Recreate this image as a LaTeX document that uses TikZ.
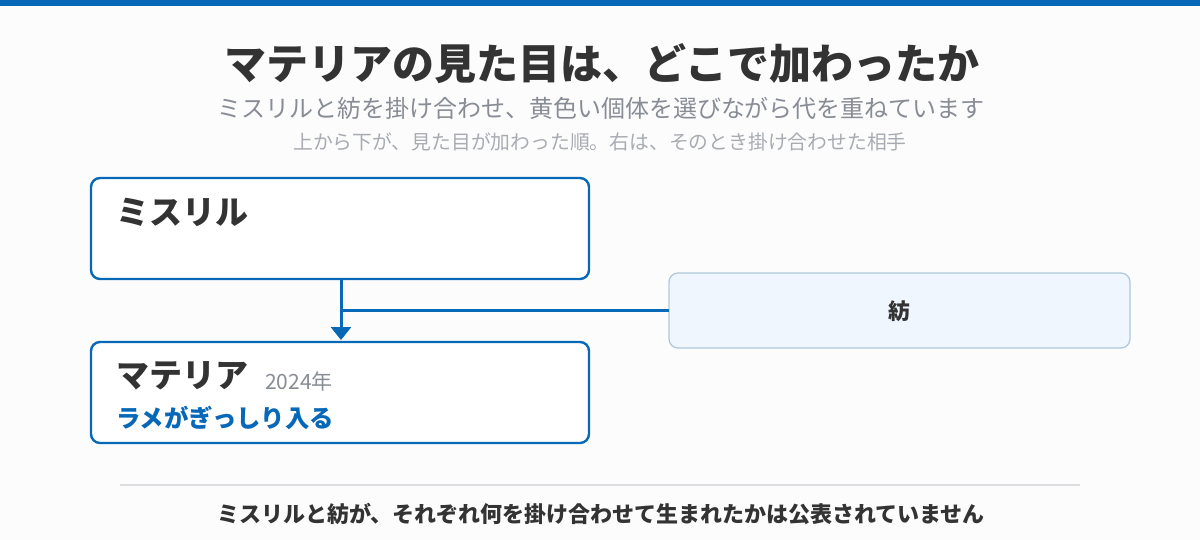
\documentclass[tikz,border=0pt]{standalone}
\usepackage{fontspec}
\setmainfont{Noto Sans CJK JP}
\usetikzlibrary{arrows.meta}
\definecolor{blu}{HTML}{0868B8}
\definecolor{dk}{HTML}{333333}
\definecolor{gr}{HTML}{888C94}
\definecolor{lg}{HTML}{A8ACB2}
\begin{document}
\begin{tikzpicture}[x=1pt,y=-1pt,
 box/.style={draw=blu,line width=2.4pt,fill=white,rounded corners=9pt},
 t/.style={inner sep=0,anchor=west}]
\fill[fill={rgb,255:red,252;green,252;blue,252}] (0,0) rectangle (1200,540);
\useasboundingbox (0,0) rectangle (1200,540);
\fill[blu] (0,0) rectangle (1200,6);
\node[inner sep=0,text=dk,font=\fontsize{42}{44}\selectfont\bfseries] (title) at (602,64) {マテリアの見た目は、どこで加わったか};
\node[inner sep=0,text=gr,font=\fontsize{24}{26}\selectfont] (sub) at (601,108) {ミスリルと紡を掛け合わせ、黄色い個体を選びながら代を重ねています};
\node[inner sep=0,text=lg,font=\fontsize{19.8}{22}\selectfont] (sub2) at (600,142) {上から下が、見た目が加わった順。右は、そのとき掛け合わせた相手};
\draw[box] (91,178) rectangle (589,279);
\coordinate (b1) at (341,279);
\node[t,text=dk,font=\fontsize{33}{35}\selectfont\bfseries] (n1) at (116,212) {ミスリル};
\draw[draw={rgb,255:red,176;green,200;blue,221},line width=1.3pt,fill={rgb,255:red,239;green,246;blue,254},rounded corners=9pt] (669,273) rectangle (1130,348);
\coordinate (b3) at (669,310);
\node[inner sep=0,text=dk,font=\fontsize{22}{24}\selectfont\bfseries] (n3) at (899,311) {紡};
\coordinate (j) at (341,310);
\draw[blu,line width=3pt] (b3) -- (j);
\draw[box] (91,342) rectangle (589,443);
\coordinate (b2) at (341,340);
\draw[blu,line width=3pt,-{Triangle[length=13pt,width=20pt]}] (b1) -- (b2);
\node[t,text=dk,font=\fontsize{33}{35}\selectfont\bfseries] (n2) at (116,376) {マテリア};
\node[t,text=gr,font=\fontsize{21}{23}\selectfont] (y) at (265,381) {2024年};
\node[t,text=blu,font=\fontsize{24.4}{26}\selectfont\bfseries] (d) at (116,418) {ラメがぎっしり入る};
\draw[draw={rgb,255:red,220;green,222;blue,225},line width=1.3pt] (120,485) -- (1080,485);
\node[inner sep=0,text=dk,font=\fontsize{22}{24}\selectfont\bfseries] (f) at (601,514) {ミスリルと紡が、それぞれ何を掛け合わせて生まれたかは公表されていません};
\end{tikzpicture}
\end{document}
